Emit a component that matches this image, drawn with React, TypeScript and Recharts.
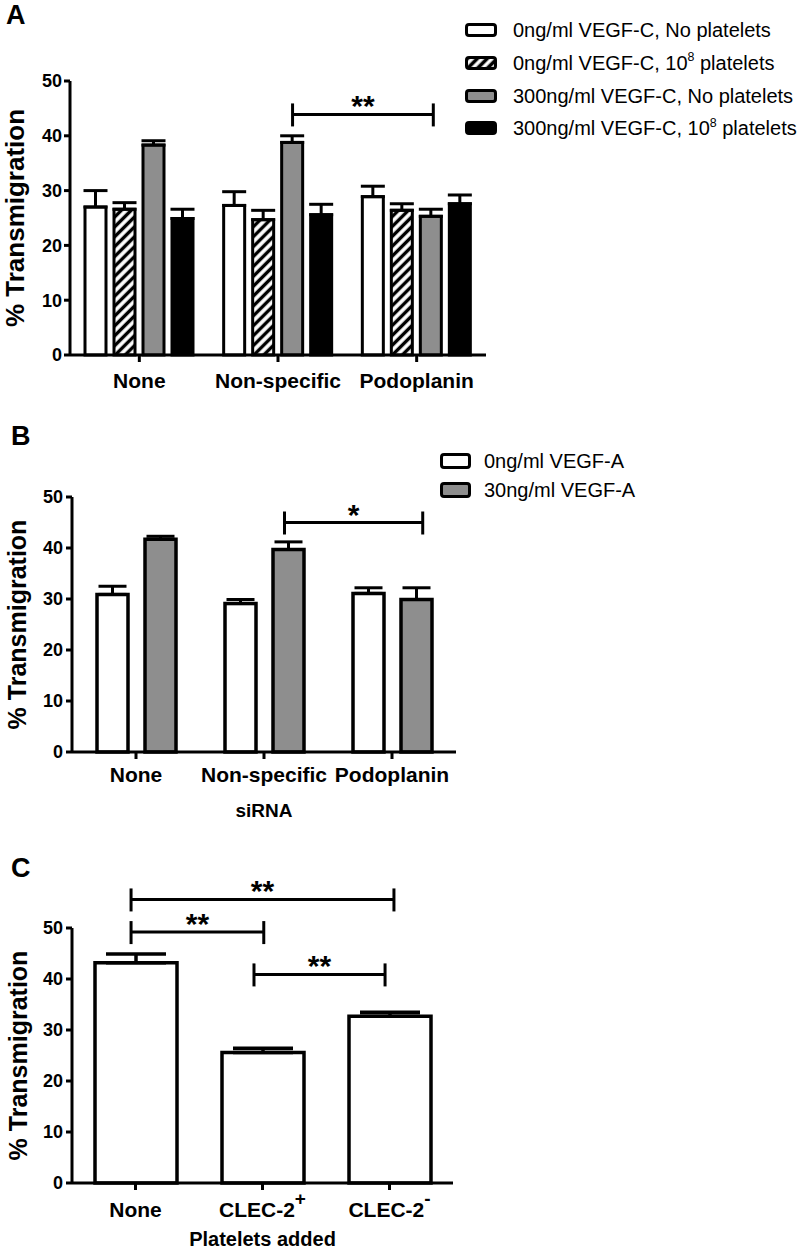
import React from 'react';
import { BarChart, Bar, XAxis, YAxis, ErrorBar, ReferenceLine } from 'recharts';

const FONT = '"Liberation Sans", Arial, Helvetica, sans-serif';

// ---------- Panel A data ----------
const aCategories = ['None', 'Non-specific', 'Podoplanin'];
const aSeriesLabels = [
  '0ng/ml VEGF-C, No platelets',
  '0ng/ml VEGF-C, 10^8 platelets',
  '300ng/ml VEGF-C, No platelets',
  '300ng/ml VEGF-C, 10^8 platelets',
];
const aVegf0NoPlt = [27.0, 27.3, 28.9];
const aVegf0NoPltErr = [3.0, 2.5, 1.9];
const aVegf0Plt = [26.6, 24.7, 26.4];
const aVegf0PltErr = [1.2, 1.7, 1.2];
const aVegf300NoPlt = [38.3, 38.8, 25.3];
const aVegf300NoPltErr = [0.8, 1.2, 1.3];
const aVegf300Plt = [24.9, 25.6, 27.6];
const aVegf300PltErr = [1.7, 1.9, 1.6];
const aBrackets = [{ from: 1.605, to: 2.62, y: 43.9, label: '**' }];

// ---------- Panel B data ----------
const bCategories = ['None', 'Non-specific', 'Podoplanin'];
const bSeriesLabels = ['0ng/ml VEGF-A', '30ng/ml VEGF-A'];
const bVegf0 = [30.9, 29.1, 31.1];
const bVegf0Err = [1.6, 0.8, 1.1];
const bVegf30 = [41.7, 39.7, 29.9];
const bVegf30Err = [0.6, 1.5, 2.3];
const bBrackets = [{ from: 1.66, to: 2.74, y: 45.0, label: '*' }];

// ---------- Panel C data ----------
const cCategories = ['None', 'CLEC-2+', 'CLEC-2-'];
const cTickBase = ['None', 'CLEC-2', 'CLEC-2'];
const cTickSup = ['', '+', '-'];
const cValues = [43.2, 25.6, 32.7];
const cErr = [1.7, 0.8, 0.8];
const cBrackets = [
  { from: 0.465, to: 2.535, y: 55.6, label: '**' },
  { from: 0.465, to: 1.51, y: 49.2, label: '**' },
  { from: 1.433, to: 2.465, y: 40.9, label: '**' },
];

const yTicks = [0, 10, 20, 30, 40, 50];

// ---------- styles ----------
const GRAY = '#8e8e8e';
const aFills = ['#ffffff', 'url(#hatchA)', GRAY, '#000000'];
const bFills = ['#ffffff', GRAY];

const aData = aCategories.map((name, i) => ({
  name,
  slot: i + 0.5,
  v0: aVegf0NoPlt[i], e0: [0, aVegf0NoPltErr[i]],
  v1: aVegf0Plt[i], e1: [0, aVegf0PltErr[i]],
  v2: aVegf300NoPlt[i], e2: [0, aVegf300NoPltErr[i]],
  v3: aVegf300Plt[i], e3: [0, aVegf300PltErr[i]],
}));
const bData = bCategories.map((name, i) => ({
  name,
  slot: i + 0.5,
  v0: bVegf0[i], e0: [0, bVegf0Err[i]],
  v1: bVegf30[i], e1: [0, bVegf30Err[i]],
}));
const cData = cCategories.map((name, i) => ({ name, slot: i + 0.5, v0: cValues[i], e0: [0, cErr[i]] }));

const axisLine = { stroke: '#000', strokeWidth: 3 };
const yTickStyle = { fill: '#000', fontSize: 18, fontWeight: 'bold', fontFamily: FONT };
const xTickStyle = { fill: '#000', fontSize: 21, fontWeight: 'bold', fontFamily: FONT };

const yLabel = (cx: number, fs: number) => ({
  content: (p: any) => {
    const vb = p.viewBox || { y: 0, height: 0 };
    const cy = vb.y + vb.height / 2;
    return (
      <text
        transform={`translate(${cx},${cy}) rotate(-90)`}
        textAnchor="middle"
        dominantBaseline="central"
        fontSize={fs}
        fontWeight="bold"
        fontFamily={FONT}
        fill="#000"
      >
        % Transmigration
      </text>
    );
  },
});

const xLabel = (text: string, dyBase: number, fs: number) => ({
  content: (p: any) => {
    const vb = p.viewBox || { x: 0, y: 0, width: 0 };
    return (
      <text
        x={vb.x + vb.width / 2}
        y={vb.y + dyBase}
        textAnchor="middle"
        fontSize={fs}
        fontWeight="bold"
        fontFamily={FONT}
        fill="#000"
      >
        {text}
      </text>
    );
  },
});

const BracketShape = (props: any) => {
  const { x1, y1, x2, y2 } = props;
  return (
    <g>
      <line x1={x1} y1={y1} x2={x2} y2={y2} stroke="#000" strokeWidth={3} />
      <line x1={x1} y1={y1 - 11} x2={x1} y2={y1 + 12} stroke="#000" strokeWidth={3} />
      <line x1={x2} y1={y2 - 11} x2={x2} y2={y2 + 12} stroke="#000" strokeWidth={3} />
    </g>
  );
};

const renderBrackets = (list: { from: number; to: number; y: number; label: string }[]) =>
  list.map((b, i) => (
    <ReferenceLine
      key={`br${i}`}
      xAxisId="ann"
      segment={[{ x: b.from, y: b.y }, { x: b.to, y: b.y }]}
      ifOverflow="visible"
      shape={BracketShape}
      label={{
        value: b.label,
        position: 'top',
        offset: -2,
        fill: '#000',
        fontSize: 30,
        fontWeight: 'bold',
        fontFamily: FONT,
      }}
    />
  ));

const CTick = (props: any) => {
  const { x, y, payload } = props;
  const i = payload.index;
  const sup = cTickSup[i];
  return (
    <text x={x} y={y} textAnchor="middle" fill="#000" fontFamily={FONT} fontWeight="bold" fontSize={21}>
      <tspan x={x} dy="0.71em">{cTickBase[i]}</tspan>
      {sup ? (
        <tspan dy={-12} fontSize={19}>
          {sup}
        </tspan>
      ) : null}
    </text>
  );
};

function ChartA() {
  return (
    <BarChart
      width={800}
      height={400}
      data={aData}
      margin={{ top: 81, right: 314, bottom: 5, left: 0 }}
      barSize={21}
      barGap={8}
    >
      <defs>
        <pattern id="hatchA" patternUnits="userSpaceOnUse" width="7" height="7" patternTransform="rotate(45)">
          <rect width="7" height="7" fill="#fff" />
          <line x1="3.5" y1="0" x2="3.5" y2="7" stroke="#000" strokeWidth="3.4" />
        </pattern>
      </defs>
      <XAxis
        dataKey="name"
        height={40}
        axisLine={axisLine}
        tickLine={axisLine}
        tickSize={7}
        tickMargin={11}
        tick={xTickStyle}
        interval={0}
      />
      <XAxis xAxisId="ann" dataKey="slot" type="number" domain={[0, 3]} hide allowDataOverflow />
      <YAxis
        width={70}
        domain={[0, 50]}
        ticks={yTicks}
        axisLine={axisLine}
        tickLine={axisLine}
        tickSize={6}
        tickMargin={2}
        tick={yTickStyle}
        interval={0}
        label={yLabel(15, 26)}
      />
      {['v0', 'v1', 'v2', 'v3'].map((k, i) => (
        <Bar key={k} dataKey={k} fill={aFills[i]} stroke="#000" strokeWidth={3} isAnimationActive={false}>
          <ErrorBar dataKey={`e${i}`} width={12} strokeWidth={3} stroke="#000" direction="y" isAnimationActive={false} />
        </Bar>
      ))}
      {renderBrackets(aBrackets)}
    </BarChart>
  );
}

function ChartB() {
  return (
    <BarChart
      width={800}
      height={425}
      data={bData}
      margin={{ top: 97, right: 344, bottom: 3, left: 0 }}
      barSize={31}
      barGap={17}
    >
      <XAxis
        dataKey="name"
        height={70}
        axisLine={axisLine}
        tickLine={axisLine}
        tickSize={7}
        tickMargin={8}
        tick={xTickStyle}
        interval={0}
        label={xLabel('siRNA', 65, 19)}
      />
      <XAxis xAxisId="ann" dataKey="slot" type="number" domain={[0, 3]} hide allowDataOverflow />
      <YAxis
        width={72}
        domain={[0, 50]}
        ticks={yTicks}
        axisLine={axisLine}
        tickLine={axisLine}
        tickSize={6}
        tickMargin={3}
        tick={yTickStyle}
        interval={0}
        label={yLabel(17, 25)}
      />
      {['v0', 'v1'].map((k, i) => (
        <Bar key={k} dataKey={k} fill={bFills[i]} stroke="#000" strokeWidth={3.5} isAnimationActive={false}>
          <ErrorBar dataKey={`e${i}`} width={14} strokeWidth={3} stroke="#000" direction="y" isAnimationActive={false} />
        </Bar>
      ))}
      {renderBrackets(bBrackets)}
    </BarChart>
  );
}

function ChartC() {
  return (
    <BarChart
      width={800}
      height={424}
      data={cData}
      margin={{ top: 103, right: 347, bottom: 2, left: 0 }}
      barSize={82}
    >
      <XAxis
        dataKey="name"
        height={64}
        axisLine={axisLine}
        tickLine={axisLine}
        tickSize={7}
        tickMargin={12}
        tick={<CTick />}
        interval={0}
        label={xLabel('Platelets added', 63, 20)}
      />
      <XAxis xAxisId="ann" dataKey="slot" type="number" domain={[0, 3]} hide allowDataOverflow />
      <YAxis
        width={72}
        domain={[0, 50]}
        ticks={yTicks}
        axisLine={axisLine}
        tickLine={axisLine}
        tickSize={6}
        tickMargin={3}
        tick={yTickStyle}
        interval={0}
        label={yLabel(18, 25)}
      />
      <Bar dataKey="v0" fill="#ffffff" stroke="#000" strokeWidth={3.5} isAnimationActive={false}>
        <ErrorBar dataKey="e0" width={30} strokeWidth={3.5} stroke="#000" direction="y" isAnimationActive={false} />
      </Bar>
      {renderBrackets(cBrackets)}
    </BarChart>
  );
}

function renderLegendText(s: string) {
  const m = s.match(/^(.*)\^(\S+)(.*)$/);
  if (!m) return s;
  return (
    <>
      {m[1]}
      <sup style={{ fontSize: '0.62em', lineHeight: 0, position: 'relative', top: '-0.1em' }}>{m[2]}</sup>
      {m[3]}
    </>
  );
}

function Swatch({ fill, w, h, id }: { fill: string; w: number; h: number; id: string }) {
  const hatch = fill.startsWith('url');
  return (
    <svg width={w} height={h} style={{ display: 'block', flex: 'none' }}>
      {hatch ? (
        <defs>
          <pattern id={id} patternUnits="userSpaceOnUse" width="7" height="7" patternTransform="rotate(45)">
            <rect width="7" height="7" fill="#fff" />
            <line x1="3.5" y1="0" x2="3.5" y2="7" stroke="#000" strokeWidth="3.6" />
          </pattern>
        </defs>
      ) : null}
      <rect
        x={1.5}
        y={1.5}
        width={w - 3}
        height={h - 3}
        rx={2.5}
        fill={hatch ? `url(#${id})` : fill}
        stroke="#000"
        strokeWidth={3}
      />
    </svg>
  );
}

function LegendBox({
  labels,
  fills,
  left,
  top,
  rowH,
  sw,
  sh,
  gap,
  prefix,
}: {
  labels: string[];
  fills: string[];
  left: number;
  top: number;
  rowH: number;
  sw: number;
  sh: number;
  gap: number;
  prefix: string;
}) {
  return (
    <div style={{ position: 'absolute', left, top, fontFamily: FONT, fontSize: 20, color: '#000' }}>
      {labels.map((l, i) => (
        <div key={l} style={{ height: rowH, display: 'flex', alignItems: 'center', whiteSpace: 'nowrap' }}>
          <Swatch fill={fills[i]} w={sw} h={sh} id={`${prefix}${i}`} />
          <span style={{ marginLeft: gap, lineHeight: 1 }}>{renderLegendText(l)}</span>
        </div>
      ))}
    </div>
  );
}

export default function App() {
  return (
    <div style={{ position: 'absolute', left: 0, top: 0, width: 800, height: 1249, background: '#fff', overflow: 'hidden' }}>
      <div style={{ position: 'absolute', left: 0, top: 0 }}>
        <ChartA />
      </div>
      <div style={{ position: 'absolute', left: 0, top: 400 }}>
        <ChartB />
      </div>
      <div style={{ position: 'absolute', left: 0, top: 825 }}>
        <ChartC />
      </div>
      <svg width={800} height={1249} style={{ position: 'absolute', left: 0, top: 0, pointerEvents: 'none' }}>
        <text x={6} y={24} fontSize={27} fontWeight="bold" fontFamily={FONT} fill="#000">A</text>
        <text x={11} y={445} fontSize={27} fontWeight="bold" fontFamily={FONT} fill="#000">B</text>
        <text x={11} y={877} fontSize={27} fontWeight="bold" fontFamily={FONT} fill="#000">C</text>
      </svg>
      <LegendBox labels={aSeriesLabels} fills={aFills.map((f, i) => (i === 1 ? 'url(#hl)' : f))} left={465} top={14} rowH={32.7} sw={32} sh={14} gap={16} prefix="legA" />
      <LegendBox labels={bSeriesLabels} fills={bFills} left={440} top={446} rowH={29.5} sw={31} sh={16} gap={13} prefix="legB" />
    </div>
  );
}
